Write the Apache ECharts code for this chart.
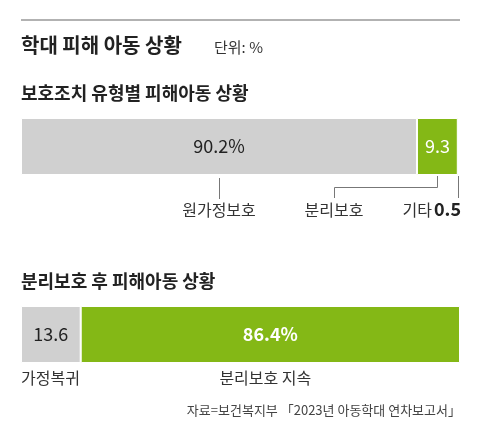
<!DOCTYPE html>
<html><head><meta charset="utf-8">
<script src="https://cdn.jsdelivr.net/npm/echarts@6/dist/echarts.min.js"></script>
<style>body{margin:0;background:#fff}#c{width:480px;height:440px}</style>
</head><body><div id="c"></div>
<script>
const cat1 = ['원가정보호', '분리보호', '기타'];
const val1 = [90.2, 9.3, 0.5];
const lab1 = ['90.2%', '9.3', ''];
const cat2 = ['가정복귀', '분리보호 지속'];
const val2 = [13.6, 86.4];
const lab2 = ['13.6', '86.4%'];
const colors1 = ['#d0d0d0', '#84b816', '#ffffff'];
const colors2 = ['#d0d0d0', '#84b816'];
const F = '"Noto Sans CJK KR", "Noto Sans", sans-serif';

const chart = echarts.init(document.getElementById('c'));
function mkSeries(cats, vals, labs, cols, gi) {
  return cats.map((c, i) => ({
    name: c, type: 'bar', stack: 's' + gi, xAxisIndex: gi, yAxisIndex: gi,
    barWidth: '100%', data: [vals[i]],
    itemStyle: { color: cols[i], borderColor: '#fff', borderWidth: 1 },
    label: { show: labs[i] !== '', formatter: labs[i], position: 'inside',
      fontFamily: F, fontSize: 18, color: cols[i] === '#84b816' ? '#fff' : '#222',
      fontWeight: cols[i] === '#84b816' && i === 1 && gi === 1 ? 'bold' : 'normal' },
    silent: true
  }));
}
const opt = {
  animation: false,
  grid: [{ left: 21, right: 20, top: 118, height: 57 }, { left: 21, right: 20, top: 306, height: 57 }],
  xAxis: [0, 1].map(g => ({ gridIndex: g, type: 'value', min: 0, max: 100, show: false })),
  yAxis: [0, 1].map(g => ({ gridIndex: g, type: 'category', data: [''], show: false })),
  series: mkSeries(cat1, val1, lab1, colors1, 0).concat(mkSeries(cat2, val2, lab2, colors2, 1))
};
chart.setOption(opt);

// annotations derived from the axes
const px = (g, x) => chart.convertToPixel({ xAxisIndex: g, yAxisIndex: g }, [x, 0])[0];
let c0 = 0; const mids1 = [], mids2 = [];
val1.forEach(v => { mids1.push(px(0, c0 + v / 2)); c0 += v; });
c0 = 0; val2.forEach(v => { mids2.push(px(1, c0 + v / 2)); c0 += v; });
const line = { stroke: '#777', lineWidth: 1 };
const T = (x, y, text, o) => Object.assign({ type: 'text', x, y, style: Object.assign({ text, fontFamily: F, fill: '#222', fontSize: 16 }, o || {}) });
const g = [
  { type: 'line', shape: { x1: 21, y1: 20, x2: 460, y2: 20 }, style: { stroke: '#999', lineWidth: 1.5 } },
  T(21, 35, '학대 피해 아동 상황', { fontSize: 20, fontWeight: 'bold' }),
  T(214, 40, '단위: %', { fontSize: 15, fill: '#333' }),
  T(21, 84, '보호조치 유형별 피해아동 상황', { fontSize: 18, fontWeight: 'bold' }),
  T(21, 272, '분리보호 후 피해아동 상황', { fontSize: 18, fontWeight: 'bold' }),
  { type: 'polyline', shape: { points: [[Math.round(mids1[0]) + .5, 178], [Math.round(mids1[0]) + .5, 199]] }, style: line },
  { type: 'polyline', shape: { points: [[Math.round(mids1[1]) + .5, 176], [Math.round(mids1[1]) + .5, 187.5], [334.5, 187.5], [334.5, 198]] }, style: line },
  { type: 'polyline', shape: { points: [[Math.round(mids1[2]) - .5, 176], [Math.round(mids1[2]) - .5, 198]] }, style: line },
  T(mids1[0], 202, cat1[0], { align: 'center', fill: '#333' }),
  T(334, 202, cat1[1], { align: 'center', fill: '#333' }),
  T(432, 202, cat1[2], { align: 'right', fill: '#333' }),
  T(461, 200, String(val1[2]), { align: 'right', fontSize: 18, fontWeight: 'bold' }),
  T(21, 370, cat2[0], { fill: '#333' }),
  T(mids2[1] - 5, 370, cat2[1], { align: 'center', fill: '#333' }),
  T(461, 404, '자료=보건복지부 「2023년 아동학대 연차보고서」', { align: 'right', fontSize: 13, fill: '#444' })
];
chart.setOption({ graphic: g });
</script></body></html>
